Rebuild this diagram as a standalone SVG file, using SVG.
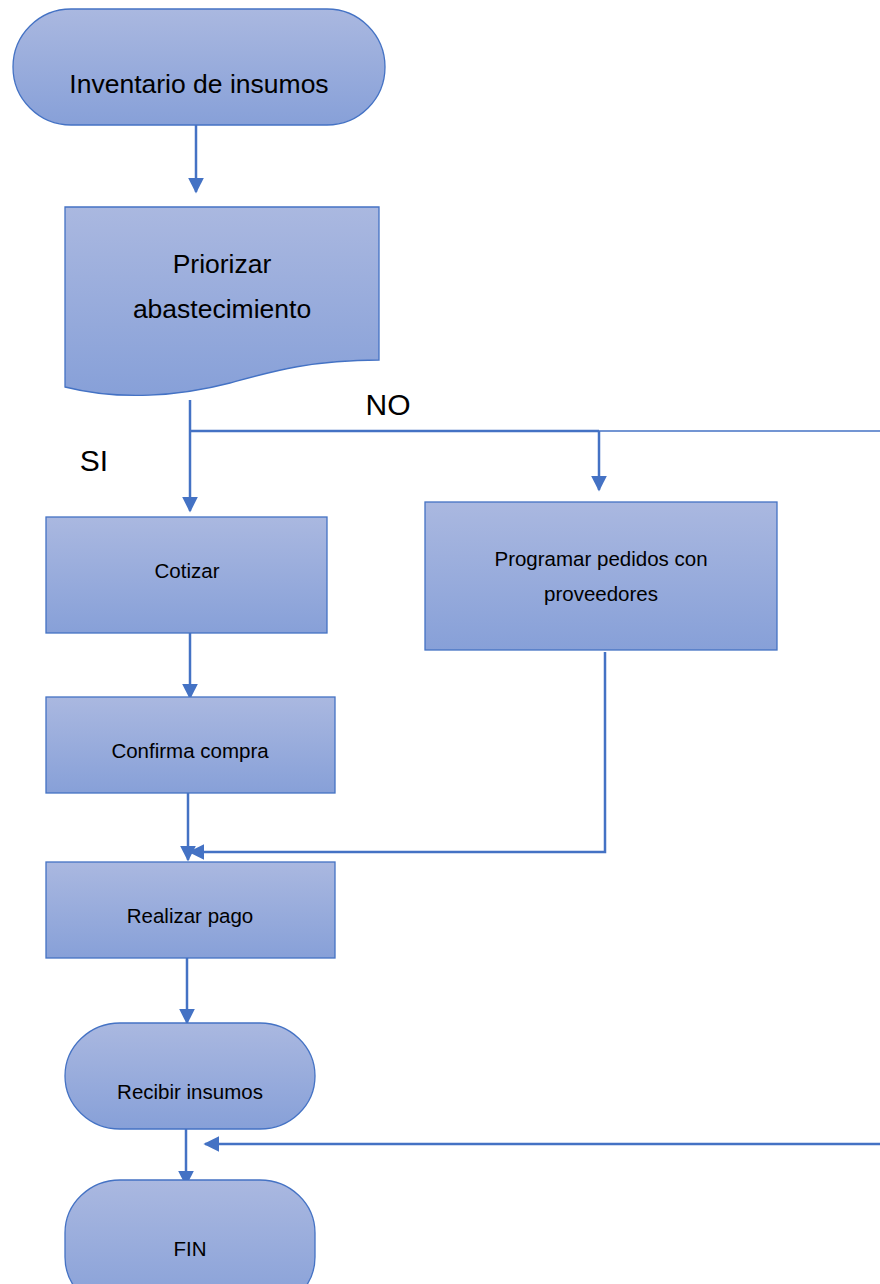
<svg xmlns="http://www.w3.org/2000/svg" width="880" height="1284" viewBox="0 0 880 1284">
<defs>
<linearGradient id="g" x1="0" y1="0" x2="0" y2="1">
<stop offset="0" stop-color="#aab8e0"/>
<stop offset="1" stop-color="#87a0d8"/>
</linearGradient>
<marker id="ah" viewBox="0 0 10 10" refX="9" refY="5" markerWidth="6.4" markerHeight="6.4" orient="auto" markerUnits="strokeWidth">
<path d="M0,0 L10,5 L0,10 z" fill="#4472c4"/>
</marker>
</defs>
<style>
.n{fill:url(#g);stroke:#4472c4;stroke-width:1.3}
.c{fill:none;stroke:#4472c4;stroke-width:2.5}
.t{font-family:"Liberation Sans",Arial,sans-serif;fill:#000;text-anchor:middle}
.l{font-size:26.5px}
.x{font-size:30px}
.s{font-size:20.5px}
</style>
<rect width="880" height="1284" fill="#fff"/>
<g id="connectors">
<path class="c" d="M196,125 V192" marker-end="url(#ah)"/>
<path class="c" d="M190,400 V511" marker-end="url(#ah)"/>
<path class="c" d="M190,431 H599"/>
<path d="M599,431 H880" fill="none" stroke="#4472c4" stroke-width="1.3"/>
<path class="c" d="M599,431 V490" marker-end="url(#ah)"/>
<path class="c" d="M190,633 V698" marker-end="url(#ah)"/>
<path class="c" d="M188,793 V860" marker-end="url(#ah)"/>
<path class="c" d="M605,652 V852 H190" marker-end="url(#ah)"/>
<path class="c" d="M187,958 V1023" marker-end="url(#ah)"/>
<path class="c" d="M186,1118 V1185" marker-end="url(#ah)"/>
<path class="c" d="M880,1144 H205" marker-end="url(#ah)"/>
</g>
<g id="labels">
<text class="t x" x="388" y="415">NO</text>
<text class="t x" x="94" y="471">SI</text>
</g>
<g id="inicio">
<rect class="n" x="13" y="9" width="372" height="116" rx="58" ry="58"/>
<text class="t l" x="199" y="93">Inventario de insumos</text>
</g>
<g id="priorizar">
<path class="n" d="M65,207 H379 V360 C310,360 270,372 230,383 C180,396 120,401 65,387 Z"/>
<text class="t l" x="222" y="273">Priorizar</text>
<text class="t l" x="222" y="318">abastecimiento</text>
</g>
<g id="cotizar">
<rect class="n" x="46" y="517" width="281" height="116"/>
<text class="t s" x="187" y="578">Cotizar</text>
</g>
<g id="programar">
<rect class="n" x="425" y="502" width="352" height="148"/>
<text class="t s" x="601" y="566">Programar pedidos con</text>
<text class="t s" x="601" y="601">proveedores</text>
</g>
<g id="confirma">
<rect class="n" x="46" y="697" width="289" height="96"/>
<text class="t s" x="190" y="758">Confirma compra</text>
</g>
<g id="pago">
<rect class="n" x="46" y="862" width="289" height="96"/>
<text class="t s" x="190" y="923">Realizar pago</text>
</g>
<g id="recibir">
<rect class="n" x="65" y="1023" width="250" height="106" rx="55" ry="53"/>
<text class="t s" x="190" y="1099">Recibir insumos</text>
</g>
<g id="fin">
<rect class="n" x="65" y="1180" width="250" height="130" rx="55" ry="53"/>
<text class="t s" x="190" y="1256">FIN</text>
</g>
</svg>
